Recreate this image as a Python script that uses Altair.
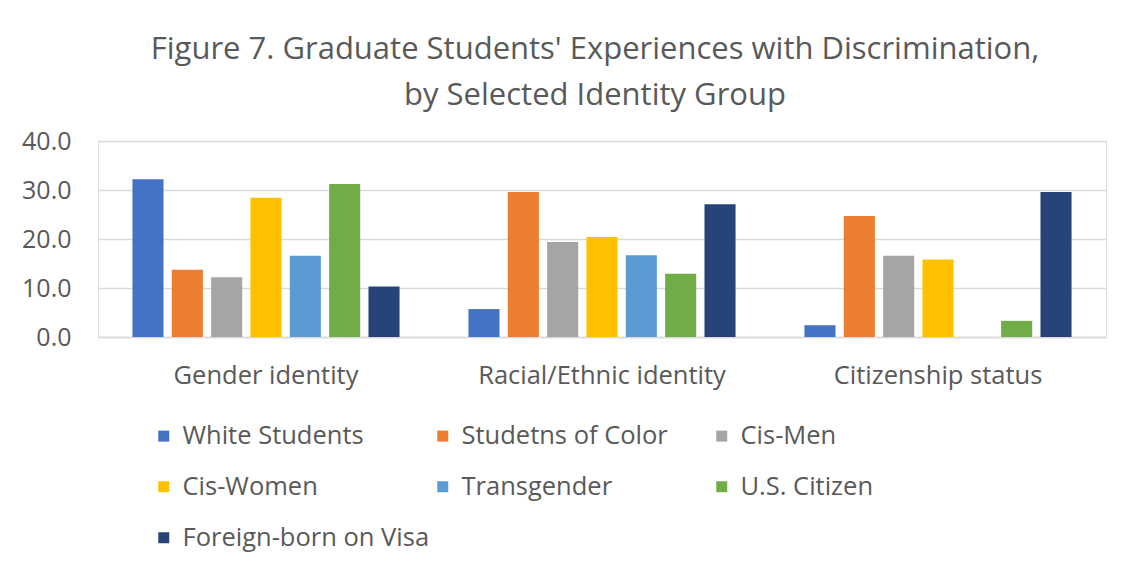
import altair as alt
import pandas as pd

categories = ["Gender identity", "Racial/Ethnic identity", "Citizenship status"]
series = ["White Students", "Studetns of Color", "Cis-Men", "Cis-Women",
          "Transgender", "U.S. Citizen", "Foreign-born on Visa"]
colors = ["#4472C4", "#ED7D31", "#A5A5A5", "#FFC000", "#5B9BD5", "#70AD47", "#264478"]

white_students = [32.2, 5.7, 2.4]
students_of_color = [13.7, 29.6, 24.7]
cis_men = [12.2, 19.4, 16.6]
cis_women = [28.4, 20.4, 15.8]
transgender = [16.6, 16.7, None]
us_citizen = [31.2, 12.9, 3.3]
foreign_born = [10.3, 27.1, 29.6]

values = [white_students, students_of_color, cis_men, cis_women,
          transgender, us_citizen, foreign_born]

rows = []
for s, vals in zip(series, values):
    for c, v in zip(categories, vals):
        if v is not None:
            rows.append({"category": c, "group": s, "value": v})
df = pd.DataFrame(rows)

FONT = "Open Sans"
GRAY = "#595959"

chart = alt.Chart(df).mark_bar().encode(
    x=alt.X("category:N", sort=categories, title=None,
            scale=alt.Scale(paddingInner=0.205, paddingOuter=0.1025),
            axis=alt.Axis(labelAngle=0, labelFontSize=25.5, labelColor=GRAY,
                          labelFont=FONT, labelPadding=26, ticks=False,
                          labelLimit=400,
                          domainColor="#D9D9D9", domainWidth=1.5)),
    xOffset=alt.XOffset("group:N", sort=series,
                        scale=alt.Scale(paddingInner=0.21, paddingOuter=0)),
    y=alt.Y("value:Q", title=None,
            scale=alt.Scale(domain=[0, 40]),
            axis=alt.Axis(values=[0, 10, 20, 30, 40], format=".1f",
                          labelFontSize=25, labelColor=GRAY, labelFont=FONT,
                          labelPadding=27, ticks=False, domain=False,
                          gridColor="#D9D9D9", gridWidth=1.5)),
    color=alt.Color("group:N", sort=series,
                    scale=alt.Scale(domain=series, range=colors),
                    legend=alt.Legend(title=None, orient="none", legendX=53,
                                      legendY=282, columns=3, direction="horizontal",
                                      gridAlign="all",
                                      columnPadding=0, rowPadding=24,
                                      symbolType="square", symbolSize=121,
                                      symbolStrokeWidth=0,
                                      labelFontSize=25.5, labelColor=GRAY,
                                      labelFont=FONT, labelOffset=6,
                                      labelLimit=400)),
).properties(
    width=1008,
    height=196,
    title=alt.TitleParams(
        text=["Figure 7. Graduate Students' Experiences with Discrimination,",
              "by Selected Identity Group"],
        fontSize=31, font=FONT, color=GRAY, fontWeight="normal",
        lineHeight=46, anchor="middle", offset=17, dx=-7),
    autosize=alt.AutoSizeParams(type="none"),
    padding={"left": 90, "top": 133, "right": 20, "bottom": 230},
).configure_view(stroke=None).configure(background="white")

chart.save("out.html", embed_options={"renderer": "svg", "actions": False})
